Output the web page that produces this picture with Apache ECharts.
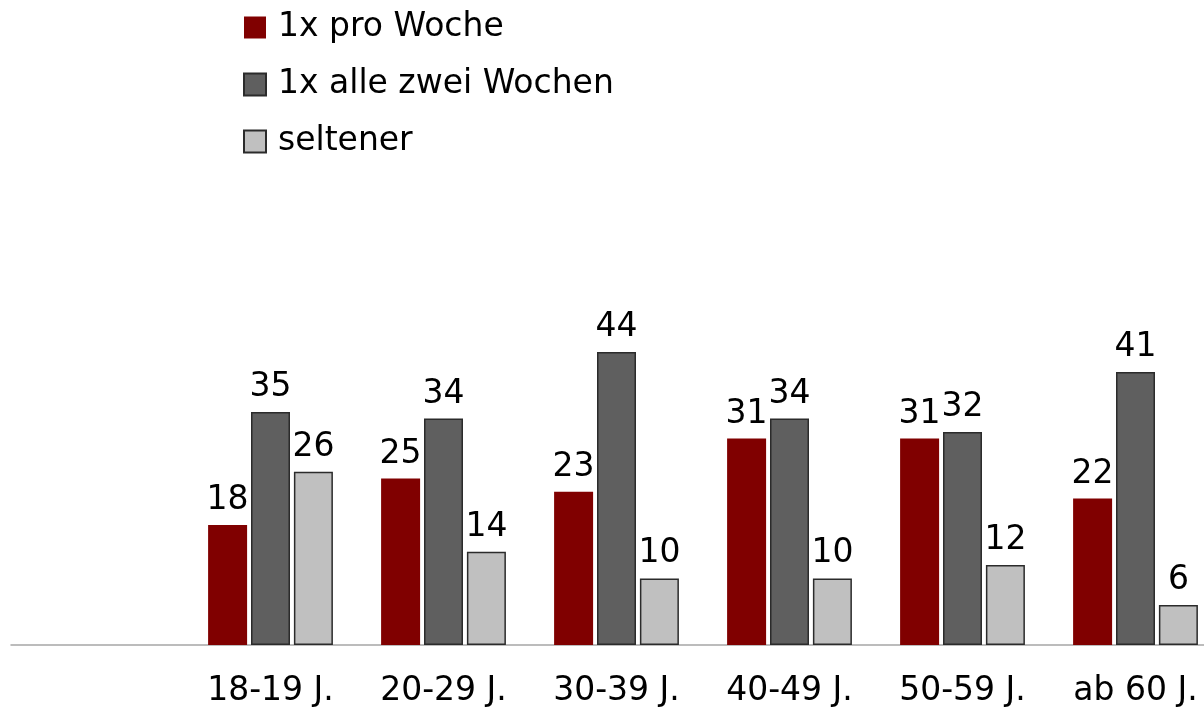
<!DOCTYPE html>
<html>
<head>
<meta charset="utf-8">
<script src="https://cdn.jsdelivr.net/npm/echarts@6/dist/echarts.min.js"></script>
<style>
  html, body { margin: 0; padding: 0; background: #fff; overflow: hidden; }
  /* plot runs past the right edge in the original, so the canvas is wider than the window */
  #main { width: 1222px; height: 707px; }
</style>
</head>
<body>
<div id="main"></div>
<script>
// categories (first slot is left empty in the original layout)
const categories = ["", "18-19 J.", "20-29 J.", "30-39 J.", "40-49 J.", "50-59 J.", "ab 60 J."];
const seriesNames = ["1x pro Woche", "1x alle zwei Wochen", "seltener"];
const weekly = [null, 18, 25, 23, 31, 31, 22];
const biweekly = [null, 35, 34, 44, 34, 32, 41];
const rarer = [null, 26, 14, 10, 10, 12, 6];

const chart = echarts.init(document.getElementById("main"));

const labelStyle = {
  show: true,
  position: "top",
  distance: 8,
  color: "#000",
  fontFamily: "DejaVu Sans",
  fontSize: 33,
};

chart.setOption({
  animation: false,
  textStyle: { fontFamily: "DejaVu Sans" },
  legend: {
    orient: "vertical",
    left: 238,
    top: 6,
    itemWidth: 22,
    itemHeight: 22,
    itemGap: 24,
    icon: "rect",
    textStyle: { fontSize: 33, color: "#000", padding: [0, 0, 0, 7] },
    data: seriesNames,
  },
  grid: {
    left: 11,
    top: 312,
    right: 0,
    bottom: 62,
    containLabel: false,
    outerBoundsMode: "none",
  },
  xAxis: {
    type: "category",
    data: categories,
    axisLine: { lineStyle: { color: "#a6a6a6", width: 1.5 } },
    axisTick: { show: false },
    axisLabel: { color: "#000", fontSize: 33, margin: 30, interval: 0 },
  },
  yAxis: {
    type: "value",
    min: 0,
    max: 50,
    show: false,
  },
  series: [
    {
      name: seriesNames[0],
      type: "bar",
      barWidth: 39,
      barGap: "10%",
      itemStyle: { color: "#800000" },
      label: labelStyle,
      data: weekly,
    },
    {
      name: seriesNames[1],
      type: "bar",
      barWidth: 39,
      barGap: "10%",
      itemStyle: { color: "#5f5f5f", borderColor: "#2b2b2b", borderWidth: 1.5 },
      label: labelStyle,
      data: biweekly,
    },
    {
      name: seriesNames[2],
      type: "bar",
      barWidth: 39,
      barGap: "10%",
      itemStyle: { color: "#c0c0c0", borderColor: "#2b2b2b", borderWidth: 1.5 },
      label: labelStyle,
      data: rarer,
    },
  ],
});
</script>
</body>
</html>
